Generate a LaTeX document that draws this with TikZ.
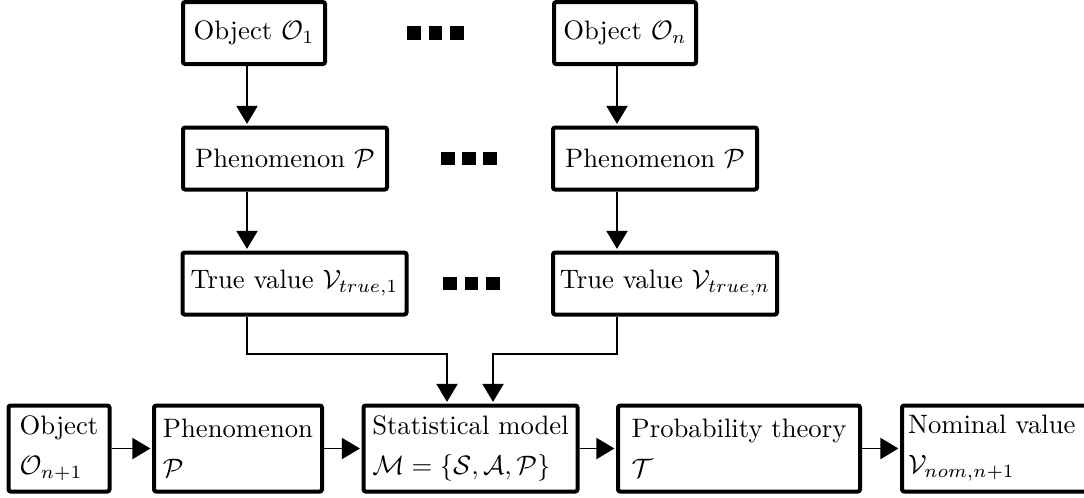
\documentclass[tikz,border=0pt]{standalone}
\usetikzlibrary{arrows.meta}
\begin{document}
\begin{tikzpicture}[x=0.375pt,y=-0.375pt,
  bx/.style={draw,line width=1.5pt,rounded corners=0.8pt,inner xsep=2pt,inner ysep=1pt,align=left,minimum height=23.25pt},
  bxb/.style={bx,minimum height=32.25pt},
  arr/.style={line width=0.65pt,-{Triangle[length=6.75pt,width=7.9pt]},shorten >=0.6pt},
  sq/.style={fill=black,draw=none,minimum size=4.9pt,inner sep=0pt}]
\useasboundingbox (0,0) rectangle (1084,497);
\clip (0,0) rectangle (1084,497);
% top rows
\node[bx,minimum width=53.25pt] (O1) at (254,33) {Object $\mathcal{O}_1$};
\node[bx,minimum width=53.25pt] (On) at (625,33) {Object $\mathcal{O}_n$};
\node[bx,minimum width=76.5pt] (P1) at (285,158.5) {Phenomenon $\mathcal{P}$};
\node[bx,minimum width=76.5pt] (Pn) at (655,158.5) {Phenomenon $\mathcal{P}$};
\node[bx,minimum width=84pt] (T1) at (294.5,283.5) {True value $\mathcal{V}_{true,1}$};
\node[bx,minimum width=84pt] (Tn) at (665,283.5) {True value $\mathcal{V}_{true,n}$};
% dots
\node[sq] (d11) at (414,33) {};
\node[sq] (d12) at (435.5,33) {};
\node[sq] (d13) at (457,33) {};
\node[sq] (d21) at (448,158.5) {};
\node[sq] (d22) at (469,158.5) {};
\node[sq] (d23) at (490,158.5) {};
\node[sq] (d31) at (450,283.5) {};
\node[sq] (d32) at (471.5,283.5) {};
\node[sq] (d33) at (493,283.5) {};
% bottom row
\node[bxb,minimum width=37.875pt] (Ob) at (59,448.5) {Object\\[3pt]$\mathcal{O}_{n+1}$};
\node[bxb,minimum width=63pt] (Pb) at (238,448.5) {Phenomenon\\[3pt]$\mathcal{P}$};
\node[bxb,minimum width=80.25pt] (SM) at (470.5,448.5) {Statistical model\\[3pt]$\mathcal{M}=\{\mathcal{S},\mathcal{A},\mathcal{P}\}$};
\node[bxb,minimum width=90.75pt] (PT) at (739,448.5) {Probability theory\\[3pt]$\mathcal{T}$};
\node[bxb,minimum width=86.25pt,text width=81.75pt,inner xsep=2.25pt] (NV) at (1017,448.5) {Nominal value\\[3pt]$\mathcal{V}_{nom,n+1}$};
% columns
\coordinate (c1) at (247,0);
\coordinate (c2) at (617,0);
\coordinate (m1) at (447,354);
\coordinate (m2) at (493,354);
\draw[arr] (O1.south -| c1) -- (P1.north -| c1);
\draw[arr] (P1.south -| c1) -- (T1.north -| c1);
\draw[arr] (On.south -| c2) -- (Pn.north -| c2);
\draw[arr] (Pn.south -| c2) -- (Tn.north -| c2);
\draw[arr] (T1.south -| c1) |- (m1) -- (SM.north -| m1);
\draw[arr] (Tn.south -| c2) |- (m2) -- (SM.north -| m2);
\draw[arr] (Ob) -- (Pb);
\draw[arr] (Pb) -- (SM);
\draw[arr] (SM) -- (PT);
\draw[arr] (PT) -- (NV);
\end{tikzpicture}
\end{document}
